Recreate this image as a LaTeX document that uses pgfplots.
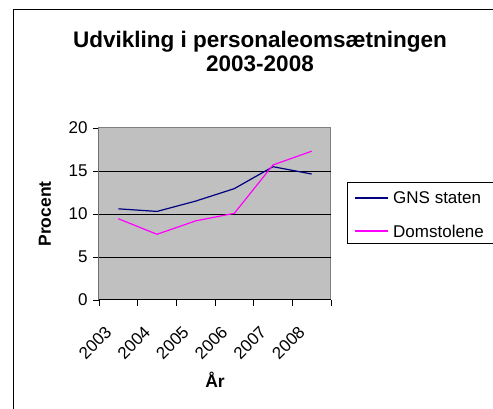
\documentclass[border=0pt]{standalone}
\usepackage{pgfplots}
\pgfplotsset{compat=1.18}
\usepackage{fontspec}
\setmainfont{Liberation Sans}
\definecolor{navyline}{RGB}{0,0,128}
\definecolor{magline}{RGB}{255,0,255}
\definecolor{plotbg}{RGB}{192,192,192}
\definecolor{framegray}{RGB}{128,128,128}
\begin{document}
\begin{tikzpicture}[x=1pt,y=1pt]
\useasboundingbox (0,0) rectangle (493,409);
\draw[black, line width=1pt] (13.5,0) -- (13.5,399) -- (493,399);
\node[font=\fontsize{22.5}{25}\selectfont\bfseries, anchor=base] at (260,361) {Udvikling i personaleomsætningen};
\node[font=\fontsize{22.5}{25}\selectfont\bfseries, anchor=base] at (260,337) {2003-2008};
\begin{axis}[
  at={(99pt,109pt)}, anchor=south west,
  scale only axis, width=232pt, height=172pt,
  xmin=0, xmax=6, ymin=0, ymax=20,
  xtick={0,1,...,6}, xticklabels={},
  ytick={0,5,10,15,20},
  xtick pos=bottom, ytick pos=left,
  /pgf/number format/assume math mode=true,
  extra x ticks={0.5,1.5,2.5,3.5,4.5,5.5},
  extra x tick labels={2003,2004,2005,2006,2007,2008},
  extra x tick style={major tick length=0pt, xticklabel style={rotate=45, anchor=north east, inner sep=1pt, xshift=-26.5pt, yshift=-6.5pt}},
  extra y ticks={5,10,15}, extra y tick labels={},
  extra y tick style={grid=major, major tick length=0pt},
  grid style={black, line width=0.9pt},
  tick align=outside, major tick length=6pt,
  tick style={black, line width=0.9pt},
  axis line style={framegray, line width=1pt},
  axis background/.style={fill=plotbg},
  ticklabel style={font=\fontsize{17}{20}\selectfont},
  yticklabel style={xshift=-2pt},
  xlabel={\textbf{År}}, ylabel={\textbf{Procent}},
  label style={font=\fontsize{17.5}{20}\selectfont},
  xlabel style={at={(axis description cs:0.5,-0.465)}, anchor=center},
  ylabel style={at={(axis description cs:-0.233,0.5)}, anchor=center, rotate=0},
]
\addplot[color=navyline, line width=1.2pt] coordinates {(0.5,10.6) (1.5,10.3) (2.5,11.5) (3.5,12.95) (4.5,15.5) (5.5,14.65)};
\addplot[color=magline, line width=1.2pt] coordinates {(0.5,9.45) (1.5,7.64) (2.5,9.2) (3.5,10.08) (4.5,15.7) (5.5,17.3)};
\draw[black, line width=1pt] (rel axis cs:0,1) -- (rel axis cs:0,0) -- (rel axis cs:1,0);
\end{axis}
% legend
\draw[black, line width=1pt, fill=white] (347,226) rectangle (520,165);
\draw[navyline, line width=1.2pt] (355,211) -- (388,211);
\draw[magline, line width=1.2pt] (355,178) -- (388,178);
\node[font=\fontsize{17}{20}\selectfont, anchor=west, inner sep=0pt] at (393,211) {GNS staten};
\node[font=\fontsize{17}{20}\selectfont, anchor=west, inner sep=0pt] at (393,178) {Domstolene};
\end{tikzpicture}
\end{document}
